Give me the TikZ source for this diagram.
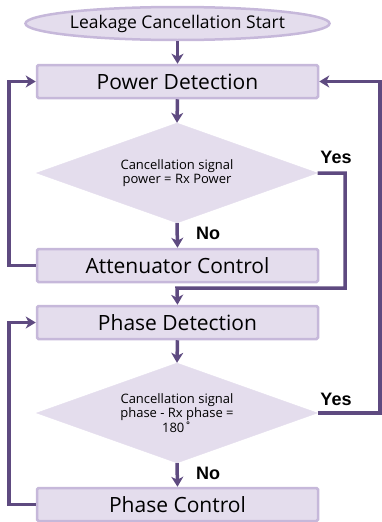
\documentclass[tikz,border=0pt]{standalone}
\usepackage{fontspec}
\setmainfont{Open Sans}
\newfontfamily\boldfont{Liberation Sans}
\usetikzlibrary{shapes.geometric,arrows.meta}
\definecolor{boxfill}{HTML}{E4DDED}
\definecolor{boxline}{HTML}{C6B8DA}
\definecolor{conn}{HTML}{5E4A80}
\begin{document}
\begin{tikzpicture}[x=1pt,y=-1pt,
  stepbox/.style={draw=boxline,fill=boxfill,line width=2.5pt,rounded corners=1.5pt,minimum width=281pt,minimum height=33pt,inner sep=0pt,font=\fontsize{21}{23}\selectfont},
  startnode/.style={draw=boxline,fill=boxfill,line width=2.5pt,ellipse,minimum width=281pt,minimum height=33pt,inner sep=0pt,font=\fontsize{17.5}{19}\selectfont},
  decision/.style={diamond,aspect=2.8,fill=boxfill,draw=boxfill,minimum width=281pt,minimum height=100pt,inner sep=0pt,align=center,font=\fontsize{13}{12}\selectfont},
  lbl/.style={font=\boldfont\bfseries\fontsize{18}{20}\selectfont},
  flow/.style={draw=conn,line width=3.5pt,-{Stealth[length=10pt,width=12pt,inset=3pt]}},
  plain/.style={draw=conn,line width=3.5pt}]
\useasboundingbox (0,0) rectangle (382,522);
\node[startnode] (start) at (177.5,23.5) {Leakage Cancellation Start};
\node[stepbox] (pd) at (177.5,81.5) {Power Detection};
\node[decision] (d1) at (177,173) {Cancellation signal\\power = Rx Power};
\node[stepbox] (ac) at (177.5,265.5) {Attenuator Control};
\node[stepbox] (phd) at (177.5,322.5) {Phase Detection};
\node[decision] (d2) at (177,413) {Cancellation signal\\phase - Rx phase =\\180˚};
\node[stepbox] (pc) at (177.5,504.5) {Phase Control};
\node[lbl] (yes1) at (336,157) {Yes};
\node[lbl] (no1) at (208,233) {No};
\node[lbl] (yes2) at (336,399) {Yes};
\node[lbl] (no2) at (208,473) {No};
\coordinate (j1) at (177,288);
\draw[flow] (start.south) -- (pd.north);
\draw[flow] (pd.south) -- (d1.north);
\draw[flow] (d1.south) -- (ac.north);
\draw[flow] (ac.west) -- ++(-27,0) |- (pd.west);
\draw[flow] (d1.east) -- (345,173) |- (j1) -- (phd.north);
\draw[flow] (phd.south) -- (d2.north);
\draw[flow] (d2.south) -- (pc.north);
\draw[flow] (pc.west) -- ++(-27,0) |- (phd.west);
\draw[flow] (d2.east) -- (380,413) |- (pd.east);
\end{tikzpicture}
\end{document}
